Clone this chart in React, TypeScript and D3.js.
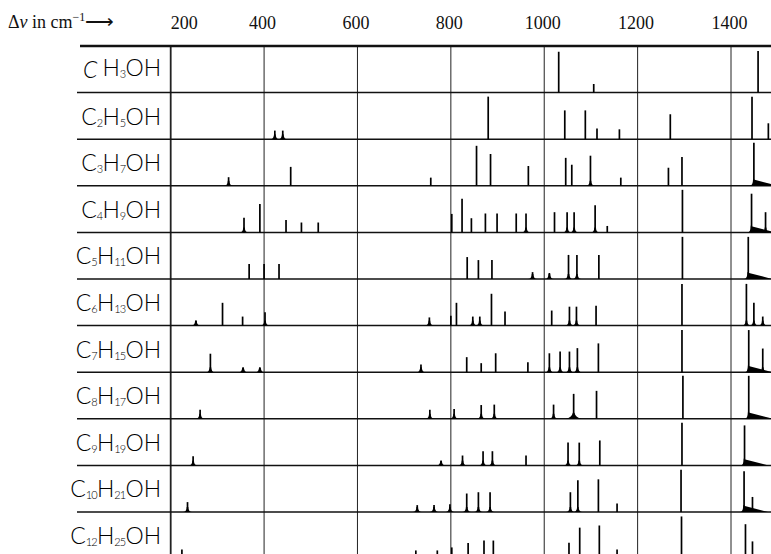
import * as d3 from 'd3';
import { useEffect, useRef } from 'react';

const ticks = [200, 400, 600, 800, 1000, 1200, 1400];
const carbons = ['', '2', '3', '4', '5', '6', '7', '8', '9', '10', '12'];
const hydrogens = ['3', '5', '7', '9', '11', '13', '15', '17', '19', '21', '25'];

// [Δν cm-1, intensity 0-10, band: l sharp, b diffuse, B wide diffuse, w with wing]
const methanol = [[1031, 9.5, 'l'], [1106, 2, 'l'], [1458, 9.7, 'l']];
const ethanol = [[423, 2, 'b'], [440, 2, 'b'], [880, 9.9, 'l'], [1044, 6.7, 'l'], [1088, 6.7, 'l'], [1113, 2.5, 'l'], [1161, 2.3, 'l'], [1270, 5.8, 'l'], [1445, 9.9, 'l'], [1480, 3.7, 'l']];
const propanol = [[324, 2, 'b'], [457, 4.4, 'l'], [757, 1.9, 'l'], [855, 9.3, 'l'], [885, 7.4, 'l'], [966, 4.6, 'l'], [1046, 6.5, 'l'], [1059, 4.9, 'l'], [1099, 7, 'b'], [1164, 1.9, 'l'], [1266, 4.2, 'l'], [1295, 6.7, 'l'], [1449, 10, 'w']];
const butanol = [[357, 3.4, 'b'], [391, 6.6, 'l'], [447, 2.9, 'l'], [480, 2.3, 'l'], [516, 2.3, 'l'], [802, 4.3, 'l'], [824, 7.8, 'l'], [844, 3.3, 'l'], [874, 4.4, 'l'], [899, 4.4, 'l'], [940, 4.4, 'l'], [961, 4.4, 'b'], [1022, 4.7, 'l'], [1049, 4.7, 'b'], [1064, 4.7, 'b'], [1109, 6.3, 'b'], [1135, 1.5, 'l'], [1296, 9.9, 'l'], [1444, 9, 'w'], [1474, 4.7, 'b']];
const pentanol = [[368, 3.5, 'l'], [400, 3.5, 'l'], [432, 3.5, 'l'], [835, 5.1, 'l'], [859, 4.4, 'l'], [888, 4.4, 'l'], [975, 1.6, 'b'], [1011, 1.4, 'b'], [1052, 5.6, 'b'], [1070, 5.6, 'b'], [1117, 5.6, 'l'], [1296, 9.8, 'l'], [1437, 9.8, 'w']];
const hexanol = [[254, 1.1, 'b'], [311, 5.3, 'l'], [354, 2.1, 'l'], [402, 3.1, 'b'], [754, 1.9, 'b'], [800, 2.3, 'l'], [812, 5.3, 'l'], [847, 2.1, 'b'], [862, 2.1, 'b'], [887, 7.4, 'l'], [916, 3.3, 'l'], [1016, 3.5, 'l'], [1054, 4.4, 'b'], [1069, 4.4, 'b'], [1111, 4.6, 'l'], [1295, 9.7, 'l'], [1433, 9.7, 'b'], [1449, 5.3, 'b'], [1468, 2.1, 'b']];
const heptanol = [[285, 4.3, 'b'], [355, 1, 'b'], [391, 1, 'b'], [736, 1.8, 'b'], [834, 3.5, 'l'], [865, 2.1, 'l'], [896, 4.4, 'l'], [965, 2.3, 'l'], [1011, 4.4, 'b'], [1034, 4.8, 'b'], [1054, 4.8, 'b'], [1071, 5.6, 'b'], [1116, 6.7, 'l'], [1295, 9.8, 'l'], [1438, 9.8, 'w'], [1468, 5.5, 'b']];
const octanol = [[263, 2.1, 'b'], [755, 2.1, 'b'], [807, 2.3, 'b'], [865, 3.2, 'b'], [893, 3.3, 'b'], [1020, 3.3, 'b'], [1063, 5.8, 'B'], [1112, 6.5, 'l'], [1297, 10, 'l'], [1438, 10, 'w']];
const nonanol = [[248, 2.1, 'b'], [779, 0.9, 'b'], [825, 2.3, 'b'], [869, 3.3, 'b'], [889, 3.3, 'b'], [961, 2.3, 'l'], [1051, 5.3, 'b'], [1075, 5.3, 'b'], [1119, 5.8, 'l'], [1295, 9.9, 'l'], [1429, 9.3, 'w']];
const decanol = [[236, 2.3, 'b'], [728, 1.6, 'b'], [764, 1.6, 'b'], [798, 1.8, 'b'], [834, 4.3, 'b'], [859, 4.6, 'b'], [884, 4.6, 'b'], [1056, 4.6, 'b'], [1072, 7.4, 'b'], [1116, 7.6, 'l'], [1156, 2, 'l'], [1293, 9.8, 'l'], [1428, 9.5, 'w'], [1446, 3.5, 'l']];
const dodecanol = [[224, 2.1, 'l'], [725, 1.9, 'l'], [771, 1.9, 'l'], [802, 2.6, 'l'], [837, 3.6, 'l'], [871, 4.2, 'l'], [891, 4.2, 'l'], [1053, 3.7, 'l'], [1076, 7.2, 'l'], [1118, 7.7, 'l'], [1156, 2.1, 'l'], [1294, 9.8, 'l'], [1431, 8, 'l'], [1446, 4, 'l']];

const spectra = [methanol, ethanol, propanol, butanol, pentanol, hexanol, heptanol, octanol, nonanol, decanol, dodecanol];

const App = () => {
  const svgRef = useRef(null);

  useEffect(() => {
    const svg = d3.select(svgRef.current);
    svg.selectAll('*').remove();
    const svgWidth = 771;
    const svgHeight = 554;
    const top = 46;

    const x = d3.scaleLinear().domain([200, 1400]).range([170.7, 731]);
    const y = d3.scaleBand()
      .domain(d3.range(spectra.length))
      .range([top, top + 46.6 * spectra.length]);
    const h = d3.scaleLinear().domain([0, 10]).range([0, 43]);

    // tick labels
    const axis = svg.append('g')
      .attr('transform', `translate(0, 29)`)
      .call(d3.axisTop(x).tickValues(ticks).tickSize(0).tickPadding(0).tickFormat(d3.format('d')));
    axis.select('.domain').remove();
    axis.selectAll('text')
      .attr('font-family', '"Liberation Serif", serif')
      .attr('font-size', 18)
      .attr('fill', '#111')
      .attr('dy', 0)
      .attr('dx', d => (d === 200 ? 13 : -2));

    const head = svg.append('text')
      .attr('x', 8)
      .attr('y', 28)
      .attr('font-family', '"Liberation Serif", serif')
      .attr('font-size', 18)
      .attr('fill', '#111');
    head.append('tspan').text('Δ');
    head.append('tspan').attr('font-style', 'italic').text('ν');
    head.append('tspan').text(' in cm');
    head.append('tspan').attr('font-size', 12).attr('dy', -7).text('−1');
    head.append('tspan').attr('dy', 7).attr('font-size', 20).text('⟶');

    // grid
    svg.selectAll('.grid')
      .data(ticks)
      .enter()
      .append('line')
      .attr('x1', d => x(d))
      .attr('x2', d => x(d))
      .attr('y1', top)
      .attr('y2', svgHeight)
      .attr('stroke', '#222')
      .attr('stroke-width', d => (d === 200 ? 1.8 : 1));

    svg.append('line')
      .attr('x1', 80).attr('x2', svgWidth)
      .attr('y1', top).attr('y2', top)
      .attr('stroke', '#111')
      .attr('stroke-width', 2.4);

    const rows = svg.selectAll('.row')
      .data(spectra)
      .enter()
      .append('g')
      .attr('class', 'row')
      .attr('transform', (d, i) => `translate(0, ${y(i) + y.bandwidth()})`);

    rows.append('line')
      .attr('x1', 77).attr('x2', svgWidth)
      .attr('y1', 0).attr('y2', 0)
      .attr('stroke', '#111')
      .attr('stroke-width', 1.5);

    const foot = d => {
      const px = x(d[0]);
      if (d[2] === 'b') return `M${px - 4.5},0 Q${px - 1},0 ${px - 0.8},-5 L${px + 0.8},-5 Q${px + 1},0 ${px + 4.5},0 Z`;
      if (d[2] === 'B') return `M${px - 8},0 Q${px - 2},-1 ${px - 0.8},-6 L${px + 0.8},-6 Q${px + 2},-1 ${px + 8},0 Z`;
      if (d[2] === 'w') return `M${px - 4},0 Q${px - 1},0 ${px - 0.8},-7 L${px + 0.8},-6 L${px + 24},0 Z`;
      return null;
    };

    rows.selectAll('.foot')
      .data(d => d.filter(p => p[2] !== 'l'))
      .enter()
      .append('path')
      .attr('d', foot)
      .attr('fill', '#000');

    rows.selectAll('.peak')
      .data(d => d)
      .enter()
      .append('line')
      .attr('x1', d => x(d[0]))
      .attr('x2', d => x(d[0]))
      .attr('y1', 0)
      .attr('y2', d => -h(d[1]))
      .attr('stroke', '#000')
      .attr('stroke-width', 1.7);

    // formula labels
    const label = rows.append('text')
      .attr('x', 161)
      .attr('y', -14.6)
      .attr('text-anchor', 'end')
      .attr('font-family', 'Lato, "DejaVu Sans", sans-serif')
      .attr('font-weight', 300)
      .attr('font-size', 23)
      .attr('fill', '#000');
    label.append('tspan').attr('font-style', (d, i) => (i === 0 ? 'italic' : null)).text('C');
    label.append('tspan').attr('font-size', 11).attr('letter-spacing', -0.8).attr('dy', 2).text((d, i) => carbons[i]);
    label.append('tspan').attr('dy', -2).attr('dx', (d, i) => (i === 0 ? 5 : 0)).text('H');
    label.append('tspan').attr('font-size', 11).attr('letter-spacing', -0.8).attr('dy', 2).text((d, i) => hydrogens[i]);
    label.append('tspan').attr('dy', -2).text('OH');
  }, []);

  return (
    <svg ref={svgRef} width={771} height={554} style={{ position: 'absolute', left: 0, top: 0, background: '#fff' }}></svg>
  );
};

export default App;
